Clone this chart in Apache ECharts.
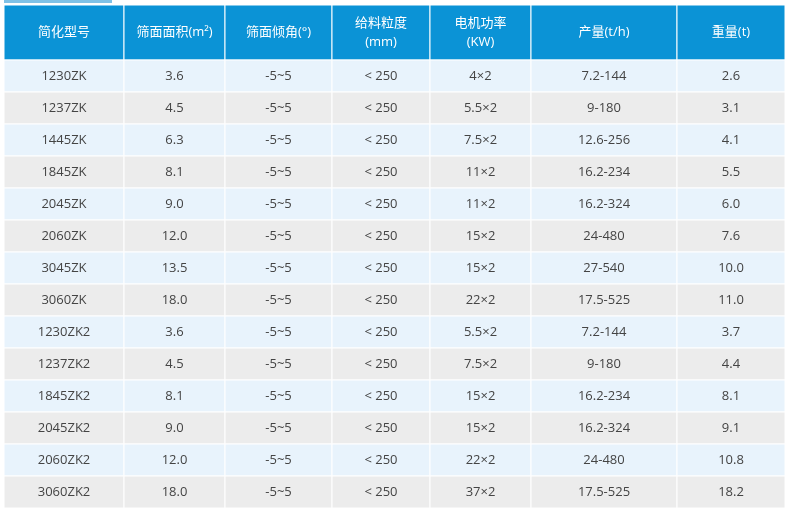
<!DOCTYPE html><html><head><meta charset="utf-8"><script src="https://cdn.jsdelivr.net/npm/echarts@6/dist/echarts.min.js"></script>
<style>html,body{margin:0;background:#fff}#c{width:789px;height:517px}</style></head><body><div id="c"></div><script>
const headers=['简化型号','筛面面积(m²)','筛面倾角(°)','给料粒度\n(mm)','电机功率\n(KW)','产量(t/h)','重量(t)'];
const models=['1230ZK','1237ZK','1445ZK','1845ZK','2045ZK','2060ZK','3045ZK','3060ZK','1230ZK2','1237ZK2','1845ZK2','2045ZK2','2060ZK2','3060ZK2'];
const area=['3.6','4.5','6.3','8.1','9.0','12.0','13.5','18.0','3.6','4.5','8.1','9.0','12.0','18.0'];
const angle=Array(14).fill('-5~5');
const feed=Array(14).fill('< 250');
const power=['4×2','5.5×2','7.5×2','11×2','11×2','15×2','15×2','22×2','5.5×2','7.5×2','15×2','15×2','22×2','37×2'];
const capacity=['7.2-144','9-180','12.6-256','16.2-234','16.2-324','24-480','27-540','17.5-525','7.2-144','9-180','16.2-234','16.2-324','24-480','17.5-525'];
const weight=['2.6','3.1','4.1','5.5','6.0','7.6','10.0','11.0','3.7','4.4','8.1','9.1','10.8','18.2'];
const cols=[models,area,angle,feed,power,capacity,weight];
const edges=[0,120,221,328,426,527,673,781];
const H=1.72;
const data=[];
headers.forEach((h,c)=>data.push([c,-1,h]));
for(let r=0;r<14;r++)for(let c=0;c<7;c++)data.push([c,r,cols[c][r]]);
const chart=echarts.init(document.getElementById('c'));
chart.setOption({animation:false,
grid:{left:4,width:781,top:5,height:503},
xAxis:{type:'value',min:0,max:781,show:false},
yAxis:{type:'value',min:0,max:14+H,inverse:true,show:false},
series:[{type:'custom',data:data,renderItem:(p,api)=>{
 const c=api.value(0),r=api.value(1),t=data[p.dataIndex][2];
 const y0=r<0?0:H+r,y1=r<0?H:H+r+1;
 const a=api.coord([edges[c],y0]),b=api.coord([edges[c+1],y1]);
 const hdr=r<0;
 const fill=hdr?'#0b93d6':(r%2===0?'#e8f3fc':'#ececec');
 return {type:'group',children:[
  {type:'rect',shape:{x:a[0],y:a[1],width:b[0]-a[0],height:b[1]-a[1]},style:{fill:fill,stroke:'#fff',lineWidth:1}},
  {type:'text',style:{text:t,x:(a[0]+b[0])/2,y:(a[1]+b[1])/2,align:'center',verticalAlign:'middle',fill:hdr?'#fff':'#444',font:'13px "Open Sans", "Noto Sans CJK SC"',lineHeight:19}}
 ]};
}}],
graphic:[{type:'rect',shape:{x:4,y:0,width:108,height:3},style:{fill:'#7fc1e6'}}]
});
</script></body></html>
